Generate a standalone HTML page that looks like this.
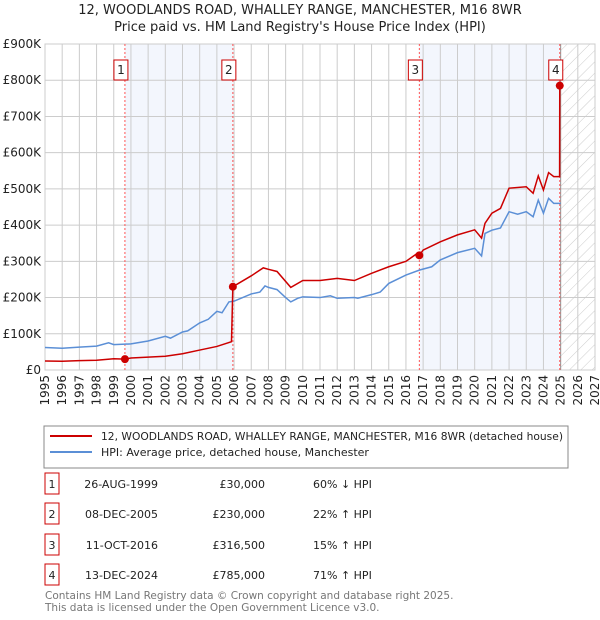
<!DOCTYPE html>
<html><head><meta charset="utf-8"><style>
body{margin:0;background:#fff;font-family:"DejaVu Sans","Liberation Sans",sans-serif;}
#wrap{position:relative;width:600px;height:620px;overflow:hidden}
svg text{font-family:"DejaVu Sans","Liberation Sans",sans-serif;}
</style></head><body><div id="wrap">
<svg id="svg" width="600" height="620" xmlns="http://www.w3.org/2000/svg"></svg>
</div>
<script>
const hpiYears=[1995,1996,1997,1998,1998.7,1999,2000,2001,2002,2002.3,2003,2003.3,2004,2004.5,2005,2005.3,2005.7,2006,2007,2007.5,2007.8,2008,2008.5,2009,2009.3,2009.7,2010,2011,2011.6,2012,2013,2013.2,2014,2014.5,2015,2016,2016.8,2017.5,2018,2019,2020,2020.4,2020.6,2021,2021.5,2022,2022.5,2023,2023.4,2023.7,2024,2024.3,2024.6,2025];
const hpiValues=[62,60,63,66,75,70,72,80,93,88,105,108,130,140,162,158,188,190,210,215,232,228,222,200,188,198,202,200,205,198,200,198,208,215,239,262,276,285,304,324,336,315,377,386,392,437,430,437,423,469,433,474,460,460];
const priceYears=[1995,1996,1997,1998,1999,1999.65,2000,2002,2003,2004,2005,2005.85,2005.93,2007,2007.7,2008,2008.5,2009.3,2010,2011,2012,2013,2014,2015,2016,2016.6,2016.78,2017,2018,2019,2020,2020.4,2020.6,2021,2021.5,2022,2023,2023.4,2023.7,2024,2024.3,2024.6,2024.94,2024.95,2025];
const priceValues=[25,24,26,27,31,30,33,38,45,55,65,78,230,260,282,278,272,228,247,247,253,247,267,285,300,320,316.5,331,354,373,387,364,405,433,446,502,506,488,536,497,545,534,534,785,785];
const saleYears=[1999.65,2005.93,2016.78,2024.95];
const saleValues=[30,230,316.5,785];
const saleLabels=["1","2","3","4"];
const yTicks=[0,100,200,300,400,500,600,700,800,900];
const yTickLabels=["£0","£100K","£200K","£300K","£400K","£500K","£600K","£700K","£800K","£900K"];
const xTicks=[1995,1996,1997,1998,1999,2000,2001,2002,2003,2004,2005,2006,2007,2008,2009,2010,2011,2012,2013,2014,2015,2016,2017,2018,2019,2020,2021,2022,2023,2024,2025,2026,2027];

const X0=45,X1=595,Y0=370,Y1=44;
const xs=y=>X0+(y-1995)/32*(X1-X0);
const ys=v=>Y0-v/900*(Y0-Y1);
const svg=document.getElementById('svg');
const NS='http://www.w3.org/2000/svg';
function mk(tag,attrs,parent){const e=document.createElementNS(NS,tag);for(const k in attrs)e.setAttribute(k,attrs[k]);(parent||svg).appendChild(e);return e;}

const defs=mk('defs',{});
const pat=mk('pattern',{id:'hatch',width:8,height:8,patternUnits:'userSpaceOnUse',patternTransform:'rotate(45)'},defs);
mk('line',{x1:0,y1:0,x2:0,y2:8,stroke:'#cccccc','stroke-width':1},pat);

let r=mk('rect',{x:xs(saleYears[0]),y:Y1,width:xs(saleYears[1])-xs(saleYears[0]),height:Y0-Y1,fill:'#f3f6fd'});

r=mk('rect',{x:xs(saleYears[2]),y:Y1,width:xs(saleYears[3])-xs(saleYears[2]),height:Y0-Y1,fill:'#f3f6fd'});

r=mk('rect',{x:xs(2025),y:Y1,width:X1-xs(2025),height:Y0-Y1,fill:'url(#hatch)'});


xTicks.forEach(t=>{const l=mk('line',{x1:xs(t),x2:xs(t),y1:Y1,y2:Y0,stroke:'#cccccc','stroke-width':1});

const tx=mk('text',{x:0,y:0,transform:`translate(${xs(t)+4},${Y0+5}) rotate(-90)`,'text-anchor':'end','font-size':12,fill:'#222'});tx.textContent=t;
});
yTicks.forEach((t,i)=>{const l=mk('line',{x1:X0,x2:X1,y1:ys(t),y2:ys(t),stroke:'#cccccc','stroke-width':1});

const tx=mk('text',{x:41,y:ys(t)+4,'text-anchor':'end','font-size':12,fill:'#222'});tx.textContent=yTickLabels[i];
});
let b=mk('rect',{x:X0,y:Y1,width:X1-X0,height:Y0-Y1,fill:'none',stroke:'#cccccc'});

let nl=mk('line',{x1:xs(2025),x2:xs(2025),y1:Y1,y2:Y0,stroke:'#999','stroke-width':1});


saleYears.forEach((s,i)=>{const l=mk('line',{x1:xs(s),x2:xs(s),y1:Y1,y2:Y0,stroke:'#ff5555','stroke-width':1,'stroke-dasharray':'2,2'});

const g=mk('g',{});
mk('rect',{x:xs(s)-11,y:60,width:14,height:20,fill:'#fff',stroke:'#cc0000','stroke-width':1},g);
const t=mk('text',{x:xs(s)-4,y:74,'text-anchor':'middle','font-size':12,fill:'#222'},g);t.textContent=saleLabels[i];});

let p=mk('polyline',{points:hpiYears.map((y,i)=>xs(y)+','+ys(hpiValues[i])).join(' '),fill:'none',stroke:'#5b8fd6','stroke-width':1.5});

p=mk('polyline',{points:priceYears.map((y,i)=>xs(y)+','+ys(priceValues[i])).join(' '),fill:'none',stroke:'#cc0000','stroke-width':1.5});

saleYears.forEach((s,i)=>{const c=mk('circle',{cx:xs(s),cy:ys(saleValues[i]),r:4,fill:'#cc0000'});
});

[["12, WOODLANDS ROAD, WHALLEY RANGE, MANCHESTER, M16 8WR",14],["Price paid vs. HM Land Registry's House Price Index (HPI)",31]].forEach((a,i)=>{
const t=mk('text',{x:300,y:a[1],'text-anchor':'middle','font-size':13,fill:'#222'});t.textContent=a[0];
});

const lg=mk('g',{});
mk('rect',{x:44,y:426,width:524,height:42,fill:'#fff',stroke:'#888'},lg);
mk('line',{x1:50,x2:92,y1:436,y2:436,stroke:'#cc0000','stroke-width':2},lg);
mk('line',{x1:50,x2:92,y1:452,y2:452,stroke:'#5b8fd6','stroke-width':2},lg);
let t=mk('text',{x:101,y:440,'font-size':11,fill:'#222',textLength:462,lengthAdjust:'spacingAndGlyphs'},lg);t.textContent='12, WOODLANDS ROAD, WHALLEY RANGE, MANCHESTER, M16 8WR (detached house)';

t=mk('text',{x:101,y:456,'font-size':11,fill:'#222'},lg);t.textContent='HPI: Average price, detached house, Manchester';


const dates=["26-AUG-1999","08-DEC-2005","11-OCT-2016","13-DEC-2024"];
const prices=["£30,000","£230,000","£316,500","£785,000"];
const rel=["60% ↓ HPI","22% ↑ HPI","15% ↑ HPI","71% ↑ HPI"];
[484,514,545,575].forEach((y,i)=>{const g=mk('g',{});
mk('rect',{x:45,y:y-11,width:14,height:21,fill:'#fff',stroke:'#cc0000'},g);
let a=mk('text',{x:52,y:y+4,'text-anchor':'middle','font-size':11,fill:'#222'},g);a.textContent=saleLabels[i];
a=mk('text',{x:158,y:y+4,'text-anchor':'end','font-size':11,fill:'#222'},g);a.textContent=dates[i];
a=mk('text',{x:265,y:y+4,'text-anchor':'end','font-size':11,fill:'#222'},g);a.textContent=prices[i];
a=mk('text',{x:313,y:y+4,'font-size':11,fill:'#222'},g);a.textContent=rel[i];});

t=mk('text',{x:45,y:599,'font-size':10.5,fill:'#777'});t.textContent='Contains HM Land Registry data © Crown copyright and database right 2025.';

t=mk('text',{x:45,y:611,'font-size':10.5,fill:'#777'});t.textContent='This data is licensed under the Open Government Licence v3.0.';

</script></body></html>
